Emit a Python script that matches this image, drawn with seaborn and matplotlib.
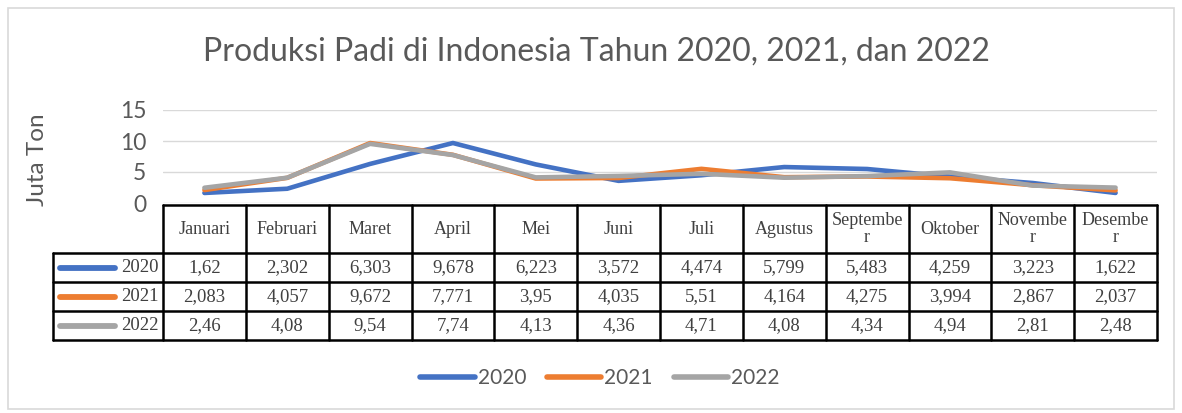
import matplotlib
matplotlib.use("Agg")
import matplotlib.pyplot as plt
from matplotlib.patches import Rectangle
import pandas as pd
import seaborn as sns

months = ["Januari", "Februari", "Maret", "April", "Mei", "Juni", "Juli",
          "Agustus", "Septembe\nr", "Oktober", "Novembe\nr", "Desembe\nr"]
years = ["2020", "2021", "2022"]
prod_2020 = [1.62, 2.302, 6.303, 9.678, 6.223, 3.572, 4.474, 5.799, 5.483, 4.259, 3.223, 1.622]
prod_2021 = [2.083, 4.057, 9.672, 7.771, 3.95, 4.035, 5.51, 4.164, 4.275, 3.994, 2.867, 2.037]
prod_2022 = [2.46, 4.08, 9.54, 7.74, 4.13, 4.36, 4.71, 4.08, 4.34, 4.94, 2.81, 2.48]
yticks = [0, 5, 10, 15]
colors = ["#4472C4", "#ED7D31", "#A5A5A5"]

series = [prod_2020, prod_2021, prod_2022]
rows = []
for yr, vals in zip(years, series):
    for i, v in enumerate(vals):
        rows.append({"idx": i, "val": v, "year": yr})
df = pd.DataFrame(rows)

sns.set_style("white")
plt.rcParams["font.family"] = ["Lato", "DejaVu Sans"]
plt.rcParams["font.serif"] = ["Liberation Serif", "DejaVu Serif"]

W, H = 1182, 413
fig = plt.figure(figsize=(W / 100, H / 100), dpi=100)
fig.patch.set_facecolor("white")
fig.add_artist(Rectangle((8 / W, 4 / H), 1166 / W, 401 / H, transform=fig.transFigure,
                         fill=False, edgecolor="#D9D9D9", linewidth=1.2))

grey = "#595959"
colw = (1157 - 163) / 12

# line chart
ax = fig.add_axes([163 / W, 1 - 203 / H, (1157 - 163) / W, 93 / H])
sns.lineplot(data=df, x="idx", y="val", hue="year", palette=colors, linewidth=3.3,
             ax=ax, legend=False, clip_on=False)
ax.set_xlim(-0.5, 11.5)
ax.set_ylim(0, 15)
ax.set_yticks(yticks)
ax.set_yticklabels([str(t) for t in yticks], fontsize=16.5, color=grey)
ax.tick_params(axis="y", length=0, pad=12)
ax.set_xticks([])
ax.set_xlabel("")
ax.set_ylabel("")
ax.grid(axis="y", color="#D9D9D9", linewidth=1)
for s in ax.spines.values():
    s.set_visible(False)
ax.set_facecolor("none")
fig.text(37 / W, 1 - 160 / H, "Juta Ton", rotation=90, ha="center", va="center",
         fontsize=17.5, color=grey)
fig.text(596 / W, 1 - 52 / H, "Produksi Padi di Indonesia Tahun 2020, 2021, dan 2022",
         ha="center", va="center", fontsize=23, color=grey)

# data table
lead = 110 / colw
tx = fig.add_axes([53 / W, 1 - 340 / H, (1157 - 53) / W, 135 / H])
tx.set_xlim(-0.5 - lead, 11.5)
tx.set_ylim(135, 0)
tx.axis("off")
bounds = [0, 48, 77, 106, 135]
lw = 1.8
# horizontal lines
tx.plot([-0.5, 11.5], [0, 0], color="black", lw=lw, clip_on=False)
for b in bounds[1:]:
    tx.plot([-0.5 - lead, 11.5], [b, b], color="black", lw=lw, clip_on=False)
# vertical lines
tx.plot([-0.5 - lead, -0.5 - lead], [48, 135], color="black", lw=lw, clip_on=False)
for k in range(13):
    tx.plot([k - 0.5, k - 0.5], [0, 135], color="black", lw=lw, clip_on=False)
for i, m in enumerate(months):
    tx.text(i, 24, m, ha="center", va="center", fontsize=13, color="#404040",
            fontfamily="serif", linespacing=1.05)
for r, (yr, vals, c) in enumerate(zip(years, series, colors)):
    yc = (bounds[r + 1] + bounds[r + 2]) / 2
    x0 = -0.5 - lead
    tx.plot([x0 + 7 / colw, x0 + 62 / colw], [yc, yc], color=c, lw=4.2,
            solid_capstyle="round", clip_on=False)
    tx.text(-0.5 - 4 / colw, yc, yr, ha="right", va="center", fontsize=13.5,
            color="#404040", fontfamily="serif")
    for i, v in enumerate(vals):
        tx.text(i, yc, str(v).replace(".", ","), ha="center", va="center",
                fontsize=13.5, color="#404040", fontfamily="serif")

# legend
handles = [plt.Line2D([], [], color=c, lw=4, solid_capstyle="round") for c in colors]
fig.legend(handles, years, loc="center", bbox_to_anchor=(600 / W, 1 - 378 / H), ncol=3,
           frameon=False, fontsize=15, labelcolor=grey, handlelength=2.6,
           columnspacing=1.0, handletextpad=0.15)

fig.savefig("out.png", dpi=100)
